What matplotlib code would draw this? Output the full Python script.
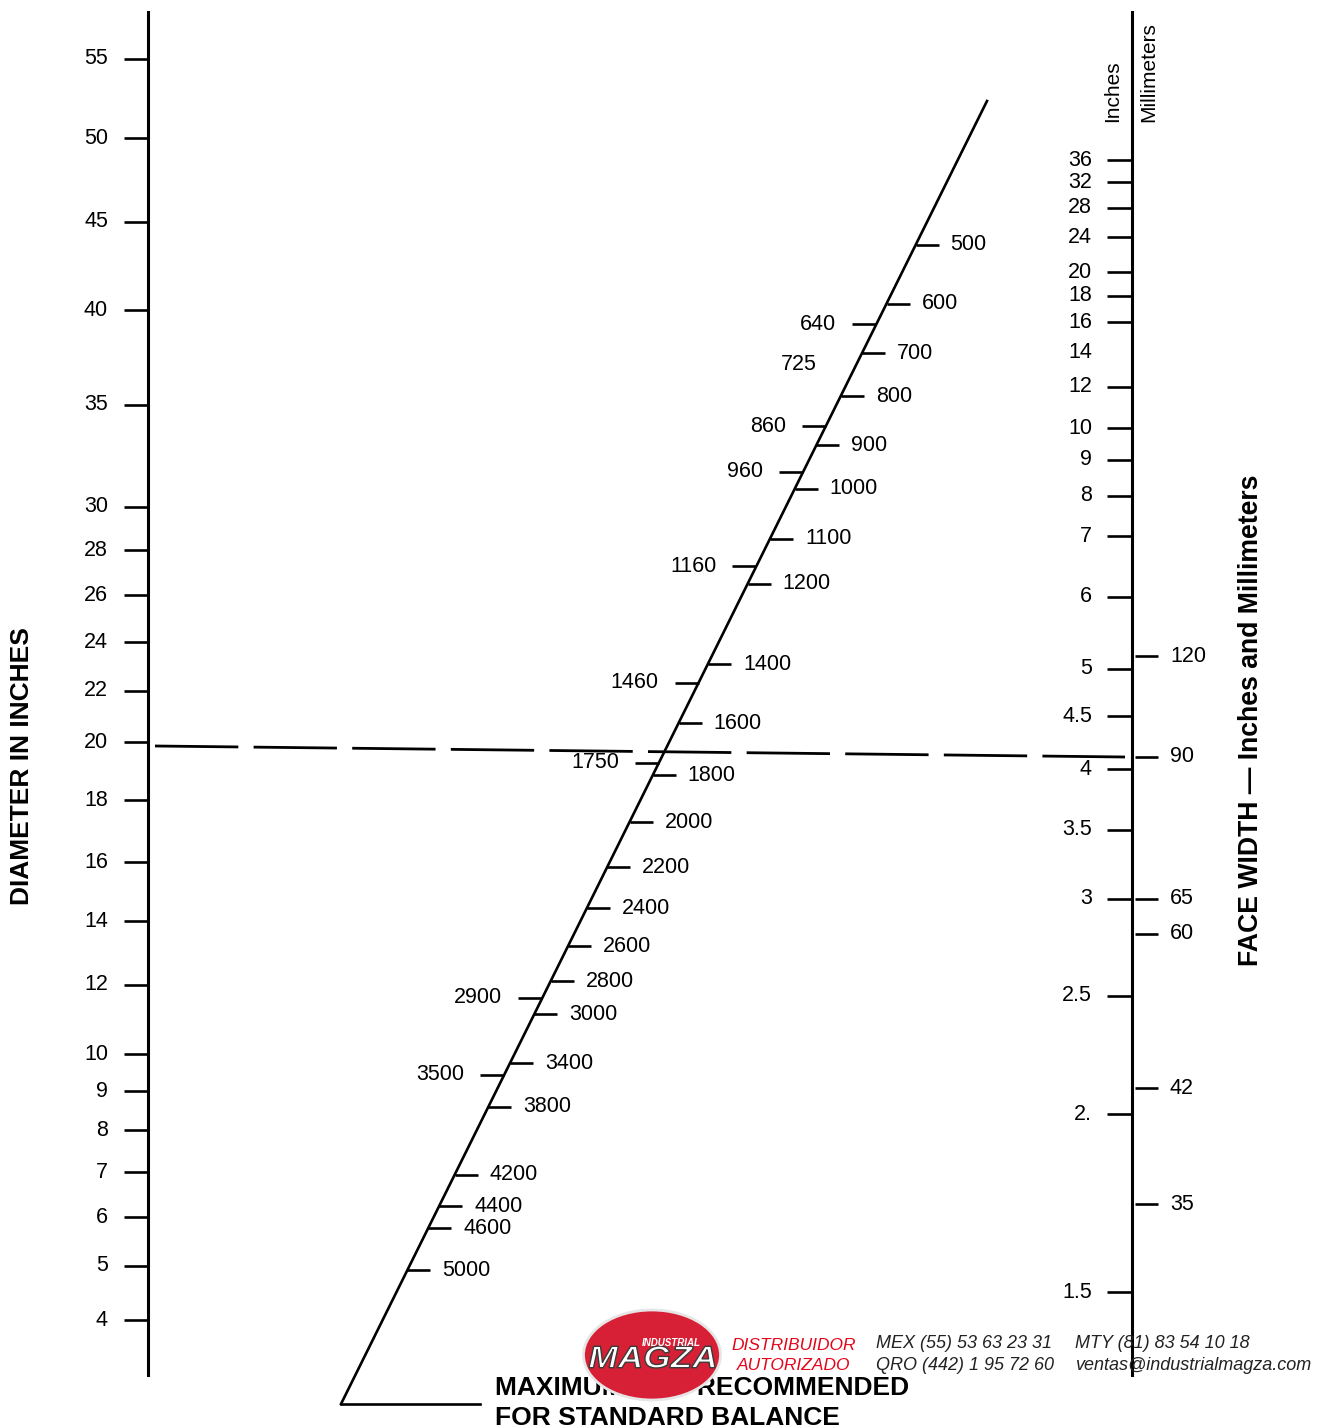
import numpy as np
import matplotlib
matplotlib.use('Agg')
import matplotlib.pyplot as plt
from matplotlib.patches import Ellipse, PathPatch
from matplotlib.textpath import TextPath
from matplotlib.font_manager import FontProperties
from matplotlib.transforms import Affine2D

plt.rcParams['font.family'] = ['Liberation Sans', 'DejaVu Sans']

# --- chart values -----------------------------------------------------------
diameter_ticks = [55, 50, 45, 40, 35, 30, 28, 26, 24, 22, 20, 18, 16, 14, 12,
                  10, 9, 8, 7, 6, 5, 4]

rpm_right = [500, 600, 700, 800, 900, 1000, 1100, 1200, 1400, 1600, 1800,
             2000, 2200, 2400, 2600, 2800, 3000, 3400, 3800, 4200, 4400,
             4600, 5000]
rpm_left = [640, 725, 860, 960, 1160, 1460, 1750, 2900, 3500]
rpm_no_tick = [725]

face_inches = [36, 32, 28, 24, 20, 18, 16, 14, 12, 10, 9, 8, 7, 6, 5, 4.5, 4,
               3.5, 3, 2.5, 2, 1.5]
face_inch_labels = ['36', '32', '28', '24', '20', '18', '16', '14', '12',
                    '10', '9', '8', '7', '6', '5', '4.5', '4', '3.5', '3',
                    '2.5', '2.', '1.5']
face_inch_no_tick = [14]
face_mm = [120, 90, 65, 60, 42, 35]

example_diameter = 20
example_face_mm = 90


# --- nomograph scales (calibrated from the printed chart) --------------------
def make_scale(values, pixels, warp):
    order = np.argsort(values)
    v = warp(np.asarray(values, float)[order])
    p = np.asarray(pixels, float)[order]
    return lambda x: float(np.interp(warp(float(x)), v, p))


diam_y = make_scale([4, 10, 16, 20, 30, 40, 55],
                    [1320, 1054, 862, 742, 507, 310, 59], np.sqrt)
face_in_y = make_scale([1.5, 2, 3, 5, 7, 10, 20, 36],
                       [1292, 1114, 899, 669, 536, 428, 272, 160], np.log)
face_mm_y = make_scale([35, 42, 65, 90, 120],
                       [1204, 1088, 899, 757, 656], np.log)
rpm_y = make_scale([500, 800, 1000, 1400, 2000, 3000, 3800, 4400, 5000],
                   [245, 396, 489, 664, 822, 1014, 1107, 1206, 1270], np.log)

LEFT_X, RIGHT_X = 148, 1132
AXIS_TOP, AXIS_BOTTOM = 12, 1375
DIAG_START, DIAG_END = (341, 1404), (987, 101)


def diag_x(y):
    return DIAG_START[0] + (DIAG_START[1] - y) * \
        (DIAG_END[0] - DIAG_START[0]) / (DIAG_START[1] - DIAG_END[1])


W, H = 1325, 1428
fig = plt.figure(figsize=(W / 100, H / 100), dpi=100)
ax = fig.add_axes([0, 0, 1, 1])
ax.set_xlim(0, W)
ax.set_ylim(H, 0)
ax.axis('off')

AXIS_LW, TICK_LW, FS = 2.2, 1.9, 15.5
tick_kw = dict(color='black', lw=TICK_LW, solid_capstyle='butt')

# left scale: diameter
ax.plot([LEFT_X, LEFT_X], [AXIS_TOP, AXIS_BOTTOM], color='black', lw=AXIS_LW)
for v in diameter_ticks:
    y = diam_y(v)
    ax.plot([LEFT_X - 24, LEFT_X], [y, y], **tick_kw)
    ax.text(LEFT_X - 40, y, str(v), ha='right', va='center', fontsize=FS)

# right scale: face width
ax.plot([RIGHT_X, RIGHT_X], [AXIS_TOP, AXIS_BOTTOM], color='black', lw=AXIS_LW)
for v, lab in zip(face_inches, face_inch_labels):
    y = face_in_y(v)
    if v not in face_inch_no_tick:
        ax.plot([RIGHT_X - 25, RIGHT_X], [y, y], **tick_kw)
    ax.text(RIGHT_X - 40, y, lab, ha='right', va='center', fontsize=FS)
for v in face_mm:
    y = face_mm_y(v)
    ax.plot([RIGHT_X + 3, RIGHT_X + 26], [y, y], **tick_kw)
    ax.text(RIGHT_X + 38, y, str(v), ha='left', va='center', fontsize=FS)

ax.text(1113, 122, 'Inches', rotation=90, ha='center', va='bottom', fontsize=15)
ax.text(1149, 122, 'Millimeters', rotation=90, ha='center', va='bottom',
        fontsize=15)

# diagonal scale: rpm
ax.plot([DIAG_START[0], DIAG_END[0]], [DIAG_START[1], DIAG_END[1]],
        color='black', lw=1.9)
ax.plot([DIAG_START[0], 480], [DIAG_START[1], DIAG_START[1]],
        color='black', lw=1.9)
for v in rpm_right:
    y = rpm_y(v)
    x = diag_x(y)
    ax.plot([x, x + 23], [y, y], **tick_kw)
    ax.text(x + 35, y, str(v), ha='left', va='center', fontsize=FS)
for v in rpm_left:
    y = rpm_y(v)
    x = diag_x(y)
    if v not in rpm_no_tick:
        ax.plot([x - 24, x], [y, y], **tick_kw)
    ax.text(x - 40, y, str(v), ha='right', va='center', fontsize=FS)

# example reading
ax.plot([155, 1125], [diam_y(example_diameter) + 4, face_mm_y(example_face_mm)],
        color='black', lw=2.0, dashes=(30, 5.5))

# titles
ax.text(22, 766, 'DIAMETER IN INCHES', rotation=90, ha='center', va='center',
        fontsize=19, fontweight='bold')
ax.text(1251, 720, 'FACE WIDTH \u2014 Inches and Millimeters', rotation=90,
        ha='center', va='center', fontsize=19.2, fontweight='bold')
ax.text(495, 1388, 'MAXIMUM RPM RECOMMENDED', ha='left', va='center',
        fontsize=19, fontweight='bold')
ax.text(495, 1418, 'FOR STANDARD BALANCE', ha='left', va='center',
        fontsize=19, fontweight='bold')

# distributor stamp
red = '#d71f35'
ax.add_patch(Ellipse((652, 1355), 137, 90, facecolor=red,
                     edgecolor='#e6e6e6', lw=2, zorder=5))
fp = FontProperties(family='Liberation Sans', weight='bold', style='italic')
tp = TextPath((0, 0), 'MAGZA', size=1, prop=fp)
bb = tp.get_extents()
tr = Affine2D().translate(-bb.x0, -bb.y0) \
    .scale(126 / bb.width, -22 / bb.height).translate(589, 1368) + ax.transData
ax.add_patch(PathPatch(tp, transform=tr, facecolor='white', edgecolor='#3a3a3a',
                       lw=1.0, zorder=6))
ax.text(671, 1343, 'INDUSTRIAL', ha='center', va='center', fontsize=7,
        fontweight='bold', style='italic', color='white', zorder=7)

ax.text(731, 1345, 'DISTRIBUIDOR', ha='left', va='center', fontsize=12.5,
        style='italic', color='#e3061b')
ax.text(737, 1366, 'AUTORIZADO', ha='left', va='center', fontsize=12.5,
        style='italic', color='#e3061b')
contact = '#222222'
ax.text(876, 1343, 'MEX (55) 53 63 23 31', ha='left', va='center',
        fontsize=13, style='italic', color=contact)
ax.text(876, 1365, 'QRO (442) 1 95 72 60', ha='left', va='center',
        fontsize=13, style='italic', color=contact)
ax.text(1075, 1343, 'MTY (81) 83 54 10 18', ha='left', va='center',
        fontsize=13, style='italic', color=contact)
ax.text(1075, 1365, 'ventas@industrialmagza.com', ha='left', va='center',
        fontsize=13, style='italic', color=contact)

fig.savefig('out.png', dpi=100)
